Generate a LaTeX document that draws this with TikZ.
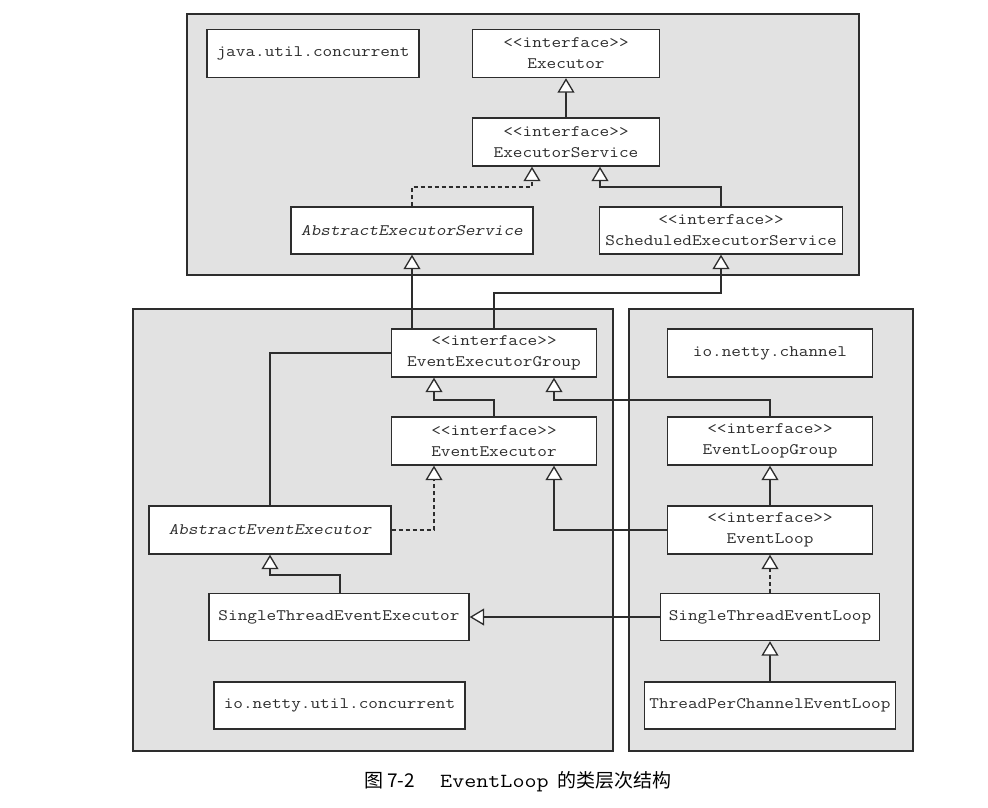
\documentclass[tikz,border=0pt]{standalone}
\usepackage{fontspec}
\setmonofont{Latin Modern Mono}[FakeStretch=1.17]
\newfontfamily\slmono{Latin Modern Mono}[FakeStretch=1.17, FakeSlant=0.2]
\newfontfamily\capmono{Latin Modern Mono}[FakeStretch=1.17]
\newfontfamily\cjk{Noto Sans CJK SC}
\usetikzlibrary{arrows.meta}
\definecolor{pkgfill}{RGB}{226,226,226}
\definecolor{ink}{RGB}{45,45,45}
\tikzset{
  pkg/.style={draw=ink, fill=pkgfill, line width=1.4pt},
  cls/.style={draw=ink, fill=white, line width=1.4pt, inner sep=0pt, align=center, text=ink,
              font=\fontsize{16}{21}\selectfont\ttfamily},
  gen/.style={draw=ink, line width=1.5pt, -{Triangle[width=17pt,length=14.5pt,fill=white,line width=1.3pt]}},
  real/.style={gen, dash pattern=on 4pt off 3pt},
  plain/.style={draw=ink, line width=1.5pt},
}
\begin{document}
\begin{tikzpicture}[x=1pt,y=-1pt]
\useasboundingbox (0,0) rectangle (988,807);
% packages
\path[pkg] (187,14) rectangle (859,275);
\path[pkg] (133,309) rectangle (613,751);
\path[pkg] (629,309) rectangle (913,751);
% classes
\node[cls, minimum width=212pt, minimum height=48pt] (juc) at (313,53.5) {java.util.concurrent};
\node[cls, minimum width=187pt, minimum height=48pt] (ex) at (566,53.5) {<<interface>>\\Executor};
\node[cls, minimum width=187pt, minimum height=48pt] (es) at (566,142) {<<interface>>\\ExecutorService};
\node[cls, minimum width=242pt, minimum height=47pt] (aes) at (412,230.5) {\slmono AbstractExecutorService};
\node[cls, minimum width=243pt, minimum height=47pt] (ses) at (721,230.5) {<<interface>>\\ScheduledExecutorService};
\node[cls, minimum width=205pt, minimum height=48pt] (eeg) at (494,353) {<<interface>>\\EventExecutorGroup};
\node[cls, minimum width=205pt, minimum height=48pt] (ee) at (494,441) {<<interface>>\\EventExecutor};
\node[cls, minimum width=242pt, minimum height=48pt] (aee) at (270,530) {\slmono AbstractEventExecutor};
\node[cls, minimum width=260pt, minimum height=47pt] (stee) at (339,617) {SingleThreadEventExecutor};
\node[cls, minimum width=251pt, minimum height=47pt] (iuc) at (339.5,705.5) {io.netty.util.concurrent};
\node[cls, minimum width=205pt, minimum height=48pt] (ionc) at (770,353) {io.netty.channel};
\node[cls, minimum width=205pt, minimum height=48pt] (elg) at (770,441) {<<interface>>\\EventLoopGroup};
\node[cls, minimum width=205pt, minimum height=48pt] (el) at (770,530) {<<interface>>\\EventLoop};
\node[cls, minimum width=219pt, minimum height=47pt] (stel) at (770,617) {SingleThreadEventLoop};
\node[cls, minimum width=251pt, minimum height=47pt] (tpcel) at (770,705.5) {ThreadPerChannelEventLoop};
% bend points
\coordinate (esA) at (532,187);
\coordinate (esB) at (600,187);
\coordinate (top2) at (494,293);
\coordinate (eegL) at (434,400);
\coordinate (eegR) at (554,400);
\coordinate (eeL) at (434,530);
\coordinate (eeR) at (554,530);
\coordinate (aeeT) at (270,575);
% connectors
\draw[gen] (es) -- (ex);
\draw[real] (aes.north) |- (esA) -- (esA |- es.south);
\draw[gen] (ses.north) |- (esB) -- (esB |- es.south);
\draw[gen] (aes.south |- eeg.north) -- (aes.south);
\draw[gen] (eeg.north) -- (top2) -| (ses.south);
\draw[plain] (aee.north) |- (eeg.west);
\draw[gen] (ee.north) |- (eegL) -- (eegL |- eeg.south);
\draw[gen] (elg.north) |- (eegR) -- (eegR |- eeg.south);
\draw[real] (aee.east) -- (eeL) -- (eeL |- ee.south);
\draw[gen] (el.west) -- (eeR) -- (eeR |- ee.south);
\draw[gen] (stee.north -| 340,0) |- (aeeT) -- (aee.south);
\draw[gen] (stel.west) -- (stee.east);
\draw[gen] (el) -- (elg);
\draw[real] (stel) -- (el);
\draw[gen] (tpcel) -- (stel);
% caption
\node[anchor=base west, inner sep=0pt, font=\fontsize{19}{22}\selectfont\cjk, text=black] (capA) at (364,787) {图 7-2};
\node[anchor=base west, inner sep=0pt, font=\fontsize{20}{22}\selectfont\capmono, text=black] (capB) at (440,787) {EventLoop};
\node[anchor=base west, inner sep=0pt, font=\fontsize{19}{22}\selectfont\cjk, text=black] (capC) at (557,787) {的类层次结构};
\end{tikzpicture}
\end{document}
